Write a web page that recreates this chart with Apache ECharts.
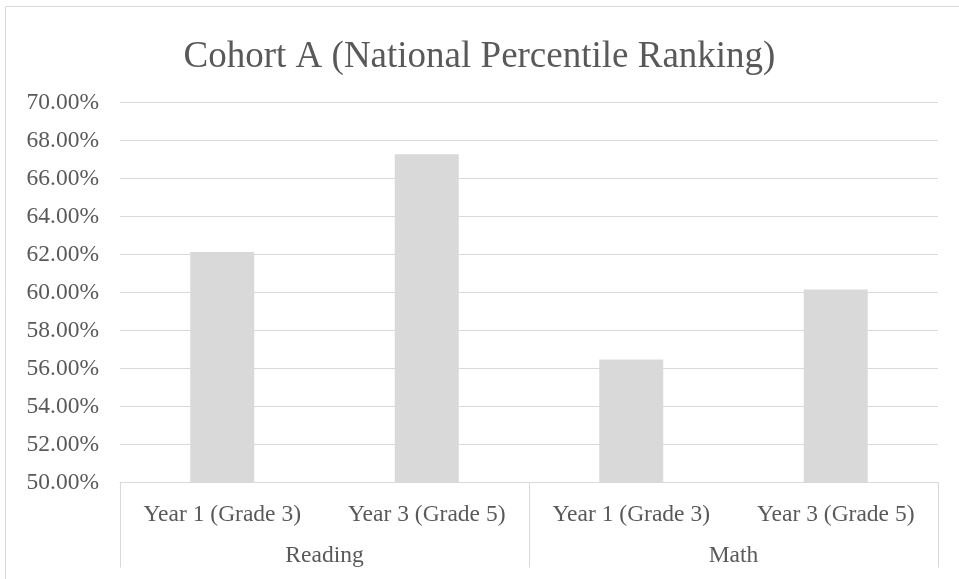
<!DOCTYPE html>
<html>
<head>
<meta charset="utf-8">
<script src="https://cdn.jsdelivr.net/npm/echarts@6/dist/echarts.min.js"></script>
<style>
  html, body { margin: 0; padding: 0; background: #fff; }
  #chart { width: 959px; height: 579px; }
</style>
</head>
<body>
<div id="chart"></div>
<script>
// data (percent)
const years = ["Year 1 (Grade 3)", "Year 3 (Grade 5)", "Year 1 (Grade 3)", "Year 3 (Grade 5)"];
const subjects = ["Reading", "Math"];
const percentile = [62.13, 67.28, 56.47, 60.16];

const font = "'Liberation Serif', 'Times New Roman', serif";
const textColor = "#595959";
const lineColor = "#d9d9d9";

const chart = echarts.init(document.getElementById("chart"));

chart.setOption({
  animation: false,
  title: {
    text: "Cohort A (National Percentile Ranking)",
    left: "center",
    top: 34,
    textStyle: { fontFamily: font, fontSize: 37, fontWeight: "normal", color: textColor },
  },
  graphic: [
    {
      type: "rect",
      shape: { x: 5.5, y: 6.5, width: 1000, height: 1000 },
      style: { fill: "none", stroke: lineColor, lineWidth: 1 },
      silent: true,
      z: -1,
    },
  ],
  grid: { left: 120, right: 21, top: 102.5, bottom: 96.5 },
  yAxis: {
    type: "value",
    min: 50,
    max: 70,
    interval: 2,
    axisLine: { show: false },
    axisTick: { show: false },
    splitLine: { lineStyle: { color: lineColor, width: 1 } },
    axisLabel: {
      margin: 21,
      fontFamily: font,
      fontSize: 23.5,
      color: textColor,
      formatter: (v) => v.toFixed(2) + "%",
    },
  },
  xAxis: [
    {
      type: "category",
      data: years,
      position: "bottom",
      axisLine: { show: true, lineStyle: { color: lineColor, width: 1 } },
      axisTick: { show: false },
      axisLabel: { margin: 20, fontFamily: font, fontSize: 23.5, color: textColor, interval: 0 },
    },
    {
      type: "category",
      data: subjects,
      position: "bottom",
      axisLine: { show: false },
      axisTick: { show: true, interval: 0, length: 85, lineStyle: { color: lineColor, width: 1 } },
      axisLabel: { margin: 61, fontFamily: font, fontSize: 23.5, color: textColor, interval: 0 },
      splitLine: { show: false },
    },
  ],
  series: [
    {
      type: "bar",
      xAxisIndex: 0,
      data: percentile,
      barWidth: 64,
      itemStyle: { color: "#d9d9d9" },
    },
  ],
});
</script>
</body>
</html>
